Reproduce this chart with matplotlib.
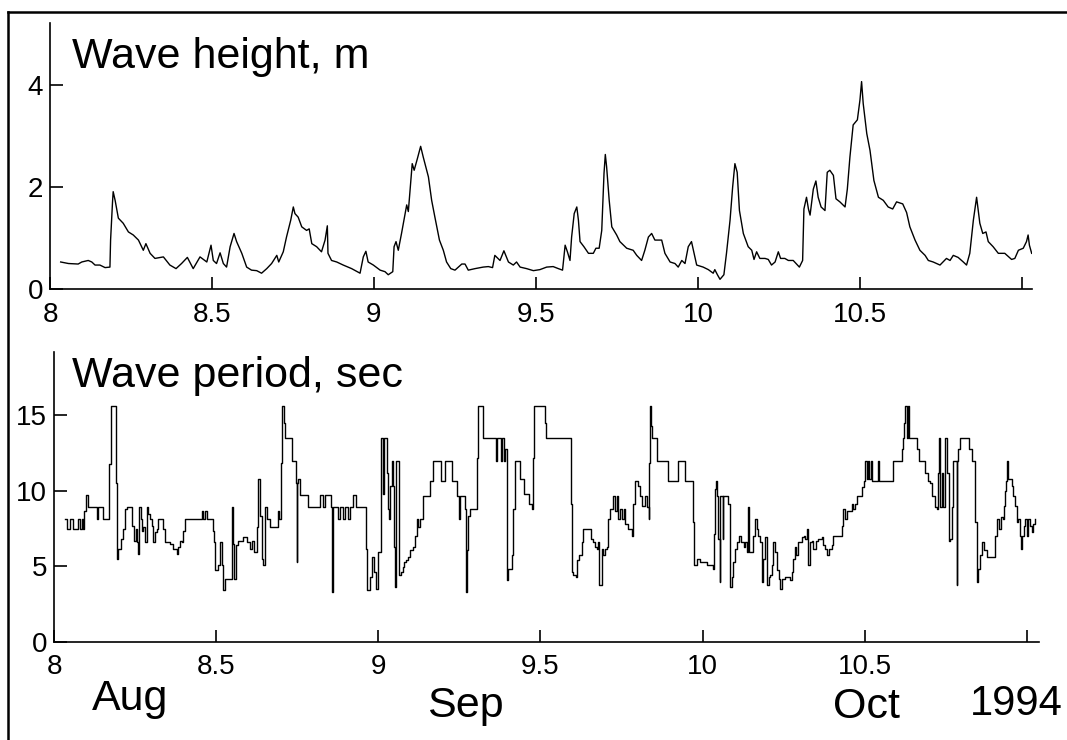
import matplotlib
matplotlib.use('Agg')
import matplotlib.pyplot as plt
from matplotlib.lines import Line2D

plt.rcParams['font.family'] = ['Liberation Sans', 'DejaVu Sans']

# Wave height (m) vs time in months (8 = 1 Aug 1994)
hgt_t = [8.033, 8.057, 8.087, 8.098, 8.118, 8.129, 8.139, 8.154, 8.170, 8.185,
         8.187, 8.193, 8.195, 8.201, 8.211, 8.226, 8.242, 8.257, 8.273, 8.288,
         8.296, 8.309, 8.324, 8.350, 8.370, 8.389, 8.406, 8.424, 8.442, 8.463,
         8.484, 8.497, 8.504, 8.514, 8.525, 8.535, 8.545, 8.556, 8.568, 8.576,
         8.592, 8.607, 8.622, 8.638, 8.653, 8.669, 8.684, 8.700, 8.706, 8.720,
         8.730, 8.743, 8.751, 8.756, 8.766, 8.777, 8.792, 8.800, 8.808, 8.823,
         8.838, 8.849, 8.856, 8.858, 8.869, 8.885, 8.905, 8.931, 8.957, 8.967,
         8.975, 8.982, 8.998, 9.013,
         9.019, 9.034, 9.044, 9.058, 9.062, 9.068, 9.075, 9.085, 9.096, 9.101,
         9.106, 9.113, 9.118, 9.124, 9.134, 9.144, 9.152, 9.168, 9.178, 9.188,
         9.202, 9.214, 9.224, 9.237, 9.250, 9.271, 9.281, 9.291, 9.312, 9.337,
         9.353, 9.366, 9.373, 9.389, 9.401, 9.415, 9.430, 9.440, 9.451, 9.471,
         9.492, 9.512, 9.533, 9.553, 9.569, 9.582, 9.590, 9.597, 9.605, 9.610,
         9.618, 9.626, 9.631, 9.636, 9.648, 9.662, 9.677, 9.685, 9.695, 9.703,
         9.710, 9.714, 9.718, 9.726, 9.734, 9.749, 9.759, 9.780, 9.800, 9.811,
         9.826, 9.836, 9.847, 9.857, 9.867, 9.888, 9.898, 9.914, 9.929, 9.939,
         9.950, 9.960, 9.970, 9.980, 9.986, 9.996, 10.016, 10.032, 10.047,
         10.052, 10.060, 10.068, 10.080, 10.088, 10.099, 10.107, 10.114, 10.121,
         10.128, 10.140, 10.155, 10.166, 10.173, 10.181, 10.191, 10.207, 10.217,
         10.227, 10.238, 10.248, 10.255, 10.268, 10.279, 10.294, 10.307, 10.313,
         10.323, 10.327, 10.335, 10.341, 10.346, 10.356, 10.364, 10.371, 10.380,
         10.392, 10.399, 10.407, 10.418, 10.426, 10.438, 10.454, 10.461, 10.469,
         10.479, 10.492, 10.500, 10.505, 10.510, 10.521, 10.531, 10.543, 10.557,
         10.572, 10.587, 10.601, 10.613, 10.632, 10.644, 10.654, 10.670, 10.685,
         10.701, 10.711, 10.726, 10.747, 10.767, 10.778, 10.788, 10.803, 10.819,
         10.829, 10.839, 10.850, 10.860, 10.870, 10.879, 10.889, 10.896, 10.911,
         10.927, 10.947, 10.968, 10.978, 10.989, 11.004, 11.014, 11.019, 11.023,
         11.030]
hgt_v = [0.53, 0.50, 0.49, 0.53, 0.56, 0.53, 0.47, 0.47, 0.42, 0.43,
         0.96, 1.71, 1.91, 1.74, 1.39, 1.29, 1.12, 1.06, 0.96, 0.76,
         0.89, 0.70, 0.60, 0.63, 0.47, 0.40, 0.50, 0.62, 0.40, 0.63,
         0.53, 0.86, 0.56, 0.50, 0.71, 0.50, 0.43, 0.83, 1.09, 0.93,
         0.70, 0.43, 0.37, 0.36, 0.31, 0.40, 0.50, 0.66, 0.53, 0.73,
         1.02, 1.35, 1.61, 1.48, 1.41, 1.22, 1.15, 1.18, 0.89, 0.83,
         0.73, 0.96, 1.24, 0.70, 0.56, 0.53, 0.47, 0.40, 0.31, 0.63,
         0.74, 0.53, 0.47, 0.40,
         0.37, 0.34, 0.28, 0.34, 0.83, 0.93, 0.76, 1.09, 1.48, 1.65,
         1.52, 2.07, 2.46, 2.33, 2.56, 2.80, 2.59, 2.20, 1.74, 1.41,
         0.96, 0.76, 0.53, 0.40, 0.37, 0.49, 0.49, 0.37, 0.40, 0.43,
         0.44, 0.42, 0.66, 0.56, 0.75, 0.53, 0.47, 0.53, 0.43, 0.40,
         0.36, 0.38, 0.43, 0.44, 0.40, 0.37, 0.86, 0.73, 0.56, 1.02,
         1.48, 1.61, 1.35, 0.93, 0.83, 0.70, 0.70, 0.80, 0.80, 1.15,
         2.27, 2.64, 2.40, 1.74, 1.22, 1.06, 0.93, 0.80, 0.76, 0.66,
         0.56, 0.76, 1.02, 1.09, 0.96, 0.96, 0.70, 0.53, 0.50, 0.43,
         0.56, 0.50, 0.83, 0.93, 0.76, 0.47, 0.43, 0.38, 0.31,
         0.38, 0.28, 0.19, 0.28, 0.70, 1.35, 2.00, 2.46, 2.29,
         1.54, 1.09, 0.83, 0.76, 0.58, 0.73, 0.60, 0.60, 0.58,
         0.47, 0.53, 0.73, 0.60, 0.60, 0.56, 0.56, 0.47, 0.43,
         0.56, 1.57, 1.80, 1.57, 1.45, 1.96, 2.12, 1.80, 1.61,
         1.54, 2.29, 2.33, 2.23, 1.77, 1.71, 1.61, 1.96, 2.59,
         3.22, 3.32, 3.71, 4.07, 3.64, 3.05, 2.72, 2.13, 1.80,
         1.74, 1.61, 1.57, 1.71, 1.67, 1.50, 1.22, 0.96, 0.76,
         0.66, 0.56, 0.53, 0.47, 0.60, 0.56, 0.66, 0.62, 0.53,
         0.47, 0.70, 1.35, 1.80, 1.29, 1.09, 1.12, 0.93, 0.83,
         0.70, 0.70, 0.58, 0.60, 0.76, 0.80, 0.93, 1.06, 0.86,
         0.70]

# Wave period (sec): value changes at each listed time
per_t = [8.034, 8.039, 8.049, 8.060, 8.075, 8.080, 8.085, 8.090, 8.094, 8.099,
         8.106, 8.132, 8.137, 8.152, 8.171, 8.175, 8.190, 8.193, 8.198, 8.206,
         8.212, 8.219, 8.226, 8.239, 8.247, 8.253, 8.257, 8.260, 8.263, 8.267,
         8.270, 8.275, 8.281, 8.286, 8.291, 8.296, 8.301, 8.306, 8.311, 8.317,
         8.322, 8.335, 8.342, 8.358, 8.368, 8.378, 8.383, 8.388, 8.394, 8.399,
         8.404, 8.455, 8.460, 8.466, 8.471, 8.489, 8.493, 8.496, 8.507, 8.512,
         8.517, 8.522, 8.527, 8.548, 8.551, 8.555, 8.561, 8.568, 8.584, 8.594,
         8.604, 8.609, 8.617, 8.625, 8.630, 8.635, 8.640, 8.645, 8.651, 8.656,
         8.666, 8.692, 8.695, 8.699, 8.704, 8.709, 8.713, 8.733, 8.746, 8.748,
         8.750, 8.753, 8.758, 8.784, 8.820, 8.830, 8.836, 8.854, 8.856, 8.859,
         8.877, 8.882, 8.892, 8.897, 8.905, 8.913, 8.923, 8.931, 8.962, 8.964,
         8.974, 8.979, 8.987, 8.993, 9.000, 9.007,
         9.008, 9.013, 9.015, 9.018, 9.026, 9.031, 9.034, 9.036, 9.041, 9.044,
         9.048, 9.051, 9.055, 9.064, 9.069, 9.075, 9.079, 9.085, 9.093, 9.098,
         9.108, 9.113, 9.118, 9.123, 9.129, 9.137, 9.139, 9.159, 9.168, 9.193,
         9.206, 9.226, 9.244, 9.250, 9.252, 9.267, 9.270, 9.272, 9.276, 9.283,
         9.305, 9.308, 9.324, 9.363, 9.367, 9.377, 9.380, 9.388, 9.391, 9.396,
         9.401, 9.411, 9.416, 9.421, 9.437, 9.449, 9.465, 9.473, 9.476, 9.480,
         9.514, 9.516, 9.593, 9.596, 9.601, 9.610, 9.612, 9.620, 9.627, 9.632,
         9.655, 9.663, 9.668, 9.673, 9.678, 9.681, 9.689, 9.694, 9.699, 9.704,
         9.709, 9.714, 9.722, 9.730, 9.735, 9.740, 9.745, 9.750, 9.756, 9.761,
         9.771, 9.781, 9.786, 9.792, 9.802, 9.807, 9.812, 9.822, 9.827, 9.833,
         9.835, 9.838, 9.840, 9.843, 9.858, 9.894, 9.923, 9.946, 9.971, 9.973,
         9.982, 9.992, 10.012, 10.033, 10.036, 10.038,
         10.041, 10.043, 10.048, 10.052, 10.054, 10.062, 10.064, 10.079, 10.084,
         10.090, 10.095, 10.100, 10.105, 10.113, 10.117, 10.126, 10.131, 10.136,
         10.141, 10.144, 10.156, 10.162, 10.167, 10.172, 10.177, 10.182, 10.187,
         10.192, 10.198, 10.203, 10.208, 10.213, 10.218, 10.223, 10.228, 10.234,
         10.239, 10.244, 10.254, 10.269, 10.275, 10.280, 10.285, 10.288, 10.295,
         10.305, 10.311, 10.316, 10.321, 10.326, 10.331, 10.336, 10.341, 10.350,
         10.357, 10.367, 10.372, 10.377, 10.383, 10.391, 10.398, 10.403, 10.429,
         10.434, 10.439, 10.444, 10.460, 10.465, 10.470, 10.475, 10.490, 10.496,
         10.501, 10.506, 10.511, 10.514, 10.518, 10.521, 10.540, 10.544, 10.588,
         10.614, 10.619, 10.622, 10.624, 10.629, 10.634, 10.637, 10.660, 10.668,
         10.686, 10.696, 10.701, 10.706, 10.717, 10.722, 10.727, 10.730, 10.732,
         10.737, 10.742, 10.747, 10.753, 10.758, 10.763, 10.768, 10.773, 10.783,
         10.785, 10.788, 10.794, 10.822, 10.830, 10.840, 10.845, 10.850, 10.855,
         10.860, 10.866, 10.876, 10.902, 10.909, 10.915, 10.919, 10.925, 10.929,
         10.932, 10.935, 10.937, 10.941, 10.953, 10.958, 10.963, 10.968, 10.973,
         10.979, 10.981, 10.984, 10.991, 10.994, 10.999, 11.004, 11.009, 11.015,
         11.020, 11.025]
per_v = [8.15, 7.49, 8.15, 7.49, 8.15, 7.49, 8.15, 7.49, 8.70, 9.73,
         8.92, 8.15, 8.92, 8.15, 11.77, 15.62, 10.56, 5.51, 6.17, 6.83,
         7.49, 8.81, 8.92, 7.71, 6.72, 7.49, 6.61, 5.84, 8.92, 8.15,
         7.38, 7.60, 6.61, 8.92, 8.48, 8.15, 7.71, 6.61, 7.27, 7.49,
         8.15, 7.49, 6.61, 6.50, 6.17, 5.84, 6.28, 6.72, 6.61, 7.38,
         8.15, 8.70, 8.15, 8.70, 8.15, 7.38, 6.61, 4.74, 5.07, 6.61,
         5.07, 3.43, 4.20, 8.92, 6.50, 4.20, 6.39, 6.72, 6.94, 6.61,
         6.17, 6.72, 5.95, 7.60, 10.78, 8.37, 5.51, 5.07, 8.92, 8.15,
         7.60, 8.70, 8.15, 11.88, 15.62, 14.52, 13.53, 11.99, 10.56, 5.29,
         10.56, 10.78, 9.73, 8.92, 9.73, 8.92, 9.73, 8.92, 3.32, 8.92,
         8.15, 8.92, 8.15, 8.92, 8.15, 8.92, 9.73, 8.92, 6.17, 3.43,
         4.30, 5.62, 4.63, 3.54, 5.95, 7.38,
         13.53, 11.66, 9.80, 13.53, 11.22, 8.81, 8.15, 10.34, 11.99, 10.34,
         6.28, 3.65, 11.99, 4.41, 4.63, 4.96, 5.29, 5.40, 5.62, 6.06,
         6.28, 7.05, 8.15, 7.60, 8.15, 8.81, 9.69, 10.67, 11.99, 10.67,
         11.99, 10.67, 9.69, 8.15, 9.69, 8.81, 3.32, 6.06, 8.37, 8.81,
         12.21, 15.62, 13.53, 11.99, 13.53, 11.99, 13.53, 11.99, 12.76, 4.09,
         4.85, 5.73, 8.81, 11.99, 10.78, 9.80, 9.14, 8.81, 12.21, 15.62,
         14.52, 13.53, 9.14, 4.63, 4.41, 4.30, 5.40, 5.73, 6.61, 7.49,
         6.83, 6.61, 6.28, 6.17, 6.61, 3.76, 6.17, 5.73, 6.17, 6.28,
         8.15, 8.81, 9.69, 8.70, 9.69, 8.15, 8.81, 8.15, 8.81, 7.82,
         7.49, 7.05, 9.14, 10.67, 10.34, 9.69, 9.03, 9.69, 8.92, 8.15,
         11.88, 15.62, 14.30, 13.53, 11.99, 10.67, 11.99, 10.67, 7.93, 5.07,
         5.51, 5.29, 5.07, 4.85, 7.16, 10.13,
         10.67, 9.69, 6.83, 3.98, 9.69, 6.83, 9.69, 9.14, 3.65,
         4.30, 5.29, 6.17, 6.61, 7.05, 6.61, 6.28, 6.61, 5.95,
         8.92, 5.95, 7.05, 8.15, 7.49, 7.05, 6.61, 3.98, 5.51,
         6.94, 3.76, 4.30, 4.41, 5.07, 6.61, 5.95, 4.74, 4.20,
         3.54, 4.20, 4.30, 4.09, 4.63, 5.51, 6.28, 5.73, 6.61,
         6.94, 7.05, 6.83, 7.49, 5.07, 6.61, 6.72, 6.17, 6.72,
         6.83, 6.94, 6.39, 6.17, 5.73, 6.17, 6.39, 7.05, 7.71,
         8.81, 8.15, 8.70, 9.14, 8.81, 9.14, 9.69, 10.23, 10.67,
         11.99, 10.78, 11.99, 10.78, 11.99, 10.67, 11.99, 10.67, 11.99,
         12.76, 13.53, 14.52, 15.62, 13.53, 15.62, 13.53, 12.76, 11.99,
         11.22, 10.67, 10.56, 9.69, 8.92, 8.81, 11.22, 13.53, 8.92,
         11.22, 8.92, 13.53, 11.22, 6.72, 6.83, 8.92, 11.99, 3.76,
         11.99, 12.76, 13.53, 12.76, 11.99, 7.93, 3.98, 4.85, 5.73,
         6.61, 6.06, 5.62, 7.05, 8.15, 7.49, 8.26, 8.15, 9.03,
         10.02, 10.67, 11.99, 10.78, 10.34, 9.69, 9.03, 7.93, 8.15,
         7.05, 6.17, 7.05, 7.71, 8.15, 7.05, 8.15, 7.71, 7.27,
         7.82, 8.15]

x_ticks = [8, 8.5, 9, 9.5, 10, 10.5, 11]
x_labels = ['8', '8.5', '9', '9.5', '10', '10.5', '']
months = ['Aug', 'Sep', 'Oct']
year = '1994'

W, H = 1067, 740
fig = plt.figure(figsize=(W / 100, H / 100), dpi=100)


def style(ax):
    for s in ['top', 'right']:
        ax.spines[s].set_visible(False)
    for s in ['left', 'bottom']:
        ax.spines[s].set_linewidth(1.2)
    ax.tick_params(direction='in', length=9, width=1.2, labelsize=20, colors='k')
    ax.tick_params(axis='x', pad=9)
    ax.tick_params(axis='y', pad=5)
    ax.set_xticks(x_ticks)
    ax.set_xticklabels(x_labels)


ax1 = fig.add_axes([50 / W, 1 - 289 / H, 982 / W, 266 / H])
ax1.plot(hgt_t, hgt_v, color='k', lw=1.0)
ax1.set_xlim(8, 11.031)
ax1.set_ylim(0, 5.22)
ax1.set_yticks([0, 2, 4])
style(ax1)

ax2 = fig.add_axes([54 / W, 1 - 642 / H, 985 / W, 290 / H])
ax2.plot(per_t, per_v, color='k', lw=1.0, drawstyle='steps-post')
ax2.set_xlim(8, 11.037)
ax2.set_ylim(0, 19.2)
ax2.set_yticks([0, 5, 10, 15])
style(ax2)

fig.text(72 / W, 1 - 68 / H, 'Wave height, m', fontsize=31, va='baseline')
fig.text(72 / W, 1 - 387 / H, 'Wave period, sec', fontsize=31, va='baseline')

for lab, px, py in zip(months, [92, 427, 833], [710, 717, 718]):
    fig.text(px / W, 1 - py / H, lab, fontsize=31, va='baseline')
fig.text(970 / W, 1 - 715 / H, year, fontsize=30, va='baseline')

# outer frame (left and top edges)
fig.add_artist(Line2D([8 / W, 8 / W], [0, 1 - 12 / H], color='k', lw=1.8))
fig.add_artist(Line2D([8 / W, 1], [1 - 12 / H, 1 - 12 / H], color='k', lw=1.8))

fig.savefig('out.png', dpi=100)
